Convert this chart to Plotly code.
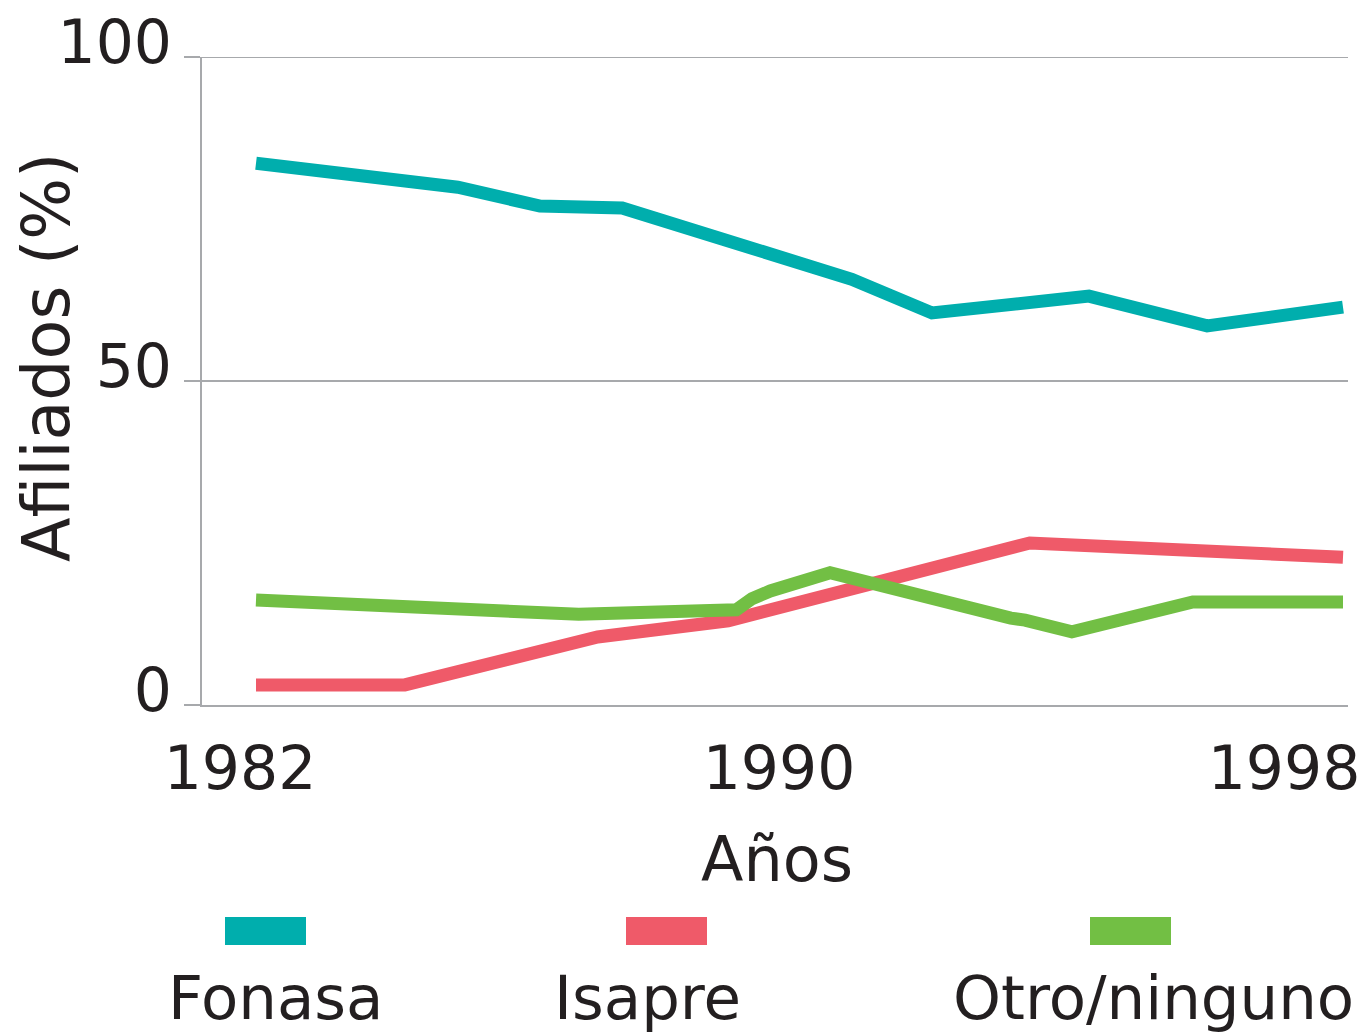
import plotly.graph_objects as go

# ---- data ----
series_names = ["Fonasa", "Isapre", "Otro/ninguno"]
series_colors = ["#00AEAD", "#EF5A69", "#72BF44"]

fonasa_x = [1982.0, 1984.97, 1986.18, 1987.39, 1990.77, 1991.95, 1994.26, 1996.0, 1998.0]
fonasa_y = [83.6, 79.9, 77.0, 76.7, 65.7, 60.5, 63.1, 58.5, 61.4]

isapre_x = [1982.0, 1984.19, 1987.03, 1988.95, 1993.39, 1998.0]
isapre_y = [3.1, 3.1, 10.5, 13.0, 25.0, 22.8]

otro_x = [1982.0, 1986.75, 1989.07, 1989.16, 1989.30, 1989.57, 1990.45, 1993.11, 1993.32, 1994.01, 1995.79, 1998.0]
otro_y = [16.2, 14.0, 14.7, 15.3, 16.4, 17.6, 20.4, 13.4, 13.1, 11.3, 15.9, 15.9]

x_tick_labels = ["1982", "1990", "1998"]
y_tick_values = [0, 50, 100]
x_title = "Años"
y_title = "Afiliados (%)"

# ---- layout geometry ----
W, H = 1369, 1034
ML, MR, MT, MB = 202, 21, 57, 329
PW, PH = W - ML - MR, H - MT - MB
PX_PER_YEAR = (1343 - 256) / 16.0
x_left = 1982 - (256 - ML) / PX_PER_YEAR
x_right = x_left + PW / PX_PER_YEAR
# label centres in the reference are shifted from the year positions
x_tick_pos = [1982 + (c - 256) / PX_PER_YEAR for c in (240, 779, 1284)]

def px_x(p):
    return (p - ML) / PW

def px_y(p):
    return (MT + PH - p) / PH

FONT = "DejaVu Sans, Verdana, sans-serif"
TXT = "#231F20"
GRID = "#A7A9AC"

fig = go.Figure()
for name, xs, ys, col in zip(series_names,
                             [fonasa_x, isapre_x, otro_x],
                             [fonasa_y, isapre_y, otro_y],
                             series_colors):
    fig.add_trace(go.Scatter(x=xs, y=ys, mode="lines", name=name,
                             line=dict(color=col, width=13),
                             showlegend=False, hoverinfo="skip"))

fig.update_layout(
    width=W, height=H, autosize=False,
    margin=dict(l=ML, r=MR, t=MT, b=MB, pad=0),
    paper_bgcolor="white", plot_bgcolor="white",
    font=dict(family=FONT, color=TXT, size=60),
    showlegend=False,
)
fig.update_xaxes(
    range=[x_left, x_right], tickvals=x_tick_pos, ticktext=x_tick_labels,
    showgrid=False, zeroline=False, automargin=False,
    showline=True, linecolor=GRID, linewidth=2, ticks="",
    tickfont=dict(size=60, color=TXT), ticklabelstandoff=10,
)
fig.update_yaxes(
    range=[0, 100], tickvals=y_tick_values, automargin=False,
    showgrid=True, gridcolor=GRID, gridwidth=2,
    zeroline=False, showline=True, linecolor=GRID, linewidth=2,
    ticks="outside", ticklen=16, tickwidth=2, tickcolor=GRID,
    tickfont=dict(size=60, color=TXT), ticklabelstandoff=0, ticklabelshift=-15,
)

# top gridline at 100 (plotly hides gridlines on the range edge)
fig.add_shape(type="line", xref="paper", yref="y", x0=0, x1=1,
              y0=y_tick_values[-1], y1=y_tick_values[-1],
              line=dict(color=GRID, width=2), layer="below")

# x title
fig.add_annotation(text=x_title, xref="paper", yref="paper",
                   x=px_x(777), y=px_y(859), xanchor="center", yanchor="middle",
                   showarrow=False, font=dict(size=62, color=TXT, family=FONT))
# y title
fig.add_annotation(text=y_title, xref="paper", yref="paper",
                   x=px_x(47), y=px_y(357), xanchor="center", yanchor="middle",
                   textangle=-90, showarrow=False,
                   font=dict(size=65, color=TXT, family=FONT))

# custom legend: swatch above, label below
swatch_x = [(225, 306), (626, 707), (1090, 1171)]
label_cx = [275, 647, 1153]
for name, col, (a, b), cx in zip(series_names, series_colors, swatch_x, label_cx):
    fig.add_shape(type="rect", xref="paper", yref="paper",
                  x0=px_x(a), x1=px_x(b), y0=px_y(945), y1=px_y(917),
                  fillcolor=col, line=dict(width=0))
    fig.add_annotation(text=name, xref="paper", yref="paper",
                       x=px_x(cx), y=px_y(997), xanchor="center", yanchor="middle",
                       showarrow=False, font=dict(size=61, color=TXT, family=FONT))

fig.write_html("out.html",
               config={"displayModeBar": False, "responsive": False},
               post_script="document.body.style.margin='0';document.body.style.padding='0';")
